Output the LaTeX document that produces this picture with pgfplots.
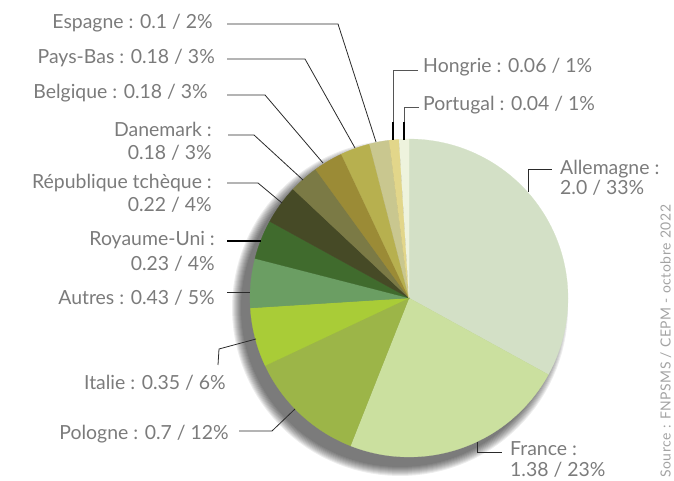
\documentclass[border=0pt]{standalone}
\usepackage{pgfplots}
\pgfplotsset{compat=1.18}
\usepackage{fontspec}
\setmainfont{Lato}
\definecolor{txt}{HTML}{7B7B7B}
\definecolor{src}{HTML}{A3A3A3}
\definecolor{ln}{HTML}{2A2A2A}
\definecolor{cAll}{HTML}{D3E0C6}
\definecolor{cFra}{HTML}{CBE09F}
\definecolor{cPol}{HTML}{9CB548}
\definecolor{cIta}{HTML}{A9CC37}
\definecolor{cAut}{HTML}{6B9E63}
\definecolor{cRU}{HTML}{406B2D}
\definecolor{cRT}{HTML}{464A26}
\definecolor{cDan}{HTML}{7B7A45}
\definecolor{cBel}{HTML}{9B8B36}
\definecolor{cPB}{HTML}{B7B04F}
\definecolor{cEsp}{HTML}{C9C78F}
\definecolor{cHon}{HTML}{E2D68A}
\definecolor{cPor}{HTML}{EEF3DD}
% slice: colour, cumulative percent before, percent
\newcommand\slice[3]{%
  \pgfmathsetmacro\aend{90-3.6*#2}%
  \pgfmathsetmacro\astart{90-3.6*(#2+#3)}%
  \edef\tmp{\noexpand\addplot[fill=#1, draw=#1, line width=0.2pt, domain=\astart:\aend, samples=80]
    ({409+159*cos(x)},{183+159*sin(x)}) -- (409,183) -- cycle;}\tmp}
\begin{document}
\begin{tikzpicture}
\begin{axis}[x=1bp, y=1bp, xmin=0, xmax=674, ymin=0, ymax=481,
  hide axis, clip=false, scale only axis]
% soft shadow
\pgfplotsinvokeforeach{159,160,...,168}{
  \addplot[fill=black, fill opacity=0.07, draw=none, domain=0:360, samples=120]
    ({400+#1*cos(x)},{173+#1*sin(x)});
}
% slices (percent shares)
\slice{cAll}{0}{33}
\slice{cFra}{33}{23}
\slice{cPol}{56}{12}
\slice{cIta}{68}{6}
\slice{cAut}{74}{5}
\slice{cRU}{79}{4}
\slice{cRT}{83}{4}
\slice{cDan}{87}{3}
\slice{cBel}{90}{3}
\slice{cPB}{93}{3}
\slice{cEsp}{96}{2}
\slice{cHon}{98}{1}
\slice{cPor}{99}{1}
% leader lines
\addplot[ln, line width=0.8pt] coordinates {(227,457) (338,457) (376,339)};
\addplot[ln, line width=0.8pt] coordinates {(227,422) (305,422) (355,333)};
\addplot[ln, line width=0.8pt] coordinates {(227,386) (265,386) (323,318)};
\addplot[ln, line width=0.8pt] coordinates {(228,346) (254,346) (303,301)};
\addplot[ln, line width=0.8pt] coordinates {(227,298) (258,298) (282,278)};
\addplot[black, line width=1.6pt] coordinates {(227,240) (261,240)};
\addplot[ln, line width=0.8pt] coordinates {(227,189) (250,189)};
\addplot[ln, line width=0.8pt] coordinates {(218,116) (219,132) (256,142)};
\addplot[ln, line width=0.8pt] coordinates {(239,50) (272,50) (295,72)};
\addplot[ln, line width=0.8pt] coordinates {(477,39) (477,29) (502,29)};
\addplot[ln, line width=0.8pt] coordinates {(528,289) (528,312) (552,312)};
\addplot[ln!80!white, line width=0.9pt] coordinates {(418,411) (393,411) (393,341)};
\addplot[black, line width=1.6pt] coordinates {(393,359) (393,341)};
\addplot[ln!80!white, line width=0.9pt] coordinates {(419,374) (404,374) (404,341)};
\addplot[black, line width=1.6pt] coordinates {(404,359) (404,341)};
% labels
\begin{scope}[every node/.style={text=txt, font=\fontsize{19.5}{22}\selectfont, inner sep=0pt}]
\node[anchor=base east] at (213,452.5) {Espagne : 0.1 / 2\%};
\node[anchor=base east] at (215,417.7) {Pays-Bas : 0.18 / 3\%};
\node[anchor=base east] at (208,382) {Belgique : 0.18 / 3\%};
\node[anchor=base east] at (212,344.3) {Danemark :};
\node[anchor=base east] at (212,321.5) {0.18 / 3\%};
\node[anchor=base east] at (212,292.3) {République tchèque :};
\node[anchor=base east] at (212,269) {0.22 / 4\%};
\node[anchor=base east] at (215,235) {Royaume-Uni :};
\node[anchor=base east] at (215,210.3) {0.23 / 4\%};
\node[anchor=base east] at (215,176) {Autres : 0.43 / 5\%};
\node[anchor=base east] at (226,91.7) {Italie : 0.35 / 6\%};
\node[anchor=base east] at (229,41) {Pologne : 0.7 / 12\%};
\node[anchor=base west] at (423,408.7) {Hongrie : 0.06 / 1\%};
\node[anchor=base west] at (423,370.3) {Portugal : 0.04 / 1\%};
\node[anchor=base west] at (560,306.7) {Allemagne :};
\node[anchor=base west] at (560,286) {2.0 / 33\%};
\node[anchor=base west] at (510,25) {France :};
\node[anchor=base west] at (510,4) {1.38 / 23\%};
\end{scope}
\node[anchor=base west, rotate=90, text=src, inner sep=0pt, font=\fontsize{14}{16}\selectfont\addfontfeature{LetterSpace=4}] at (670.5,3) {Source : FNPSMS / CEPM - octobre 2022};
\end{axis}
\pgfresetboundingbox
\useasboundingbox (current axis.south west) rectangle (current axis.north east);
\end{tikzpicture}
\end{document}
